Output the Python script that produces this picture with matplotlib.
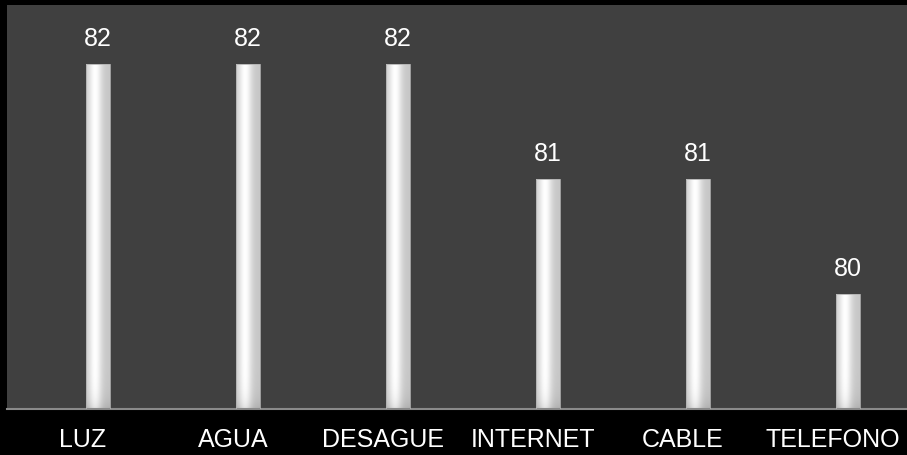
import numpy as np
import matplotlib
matplotlib.use("Agg")
import matplotlib.pyplot as plt

categories = ["LUZ", "AGUA", "DESAGUE", "INTERNET", "CABLE", "TELEFONO"]
values = [82, 82, 82, 81, 81, 80]
label_texts = ["82", "82", "82", "81", "81", "80"]

plt.rcParams['font.family'] = ['Liberation Sans', 'DejaVu Sans']

W, H = 907, 456
fig = plt.figure(figsize=(W / 100, H / 100), dpi=100, facecolor="black")
ax = fig.add_axes([7 / W, (H - 410) / H, 900 / W, (410 - 6) / H])
ax.set_facecolor("#404040")
ymin, ymax = 79, 82.51
shift = 1 / 150
ax.set_xlim(-0.5 - shift, len(categories) - 0.5 - shift)
ax.set_ylim(ymin, ymax)

bw = 0.16
off = 0.1
xs = np.linspace(0, 1, 60)
prof = 0.78 + 0.22 * np.exp(-((xs - 0.38) / 0.28) ** 2)
prof = np.clip(prof, 0, 1)
for i, v in enumerate(values):
    xc = i + off
    x0, x1 = xc - bw / 2, xc + bw / 2
    n = 200
    ys = np.linspace(0, 1, n)
    vert = 1 - 0.12 * np.exp(-ys * (v - ymin) * 115 / 10.0)
    img = prof[None, :] * vert[:, None]
    rgb = np.dstack([img, img, img])
    im = ax.imshow(rgb, extent=(x0, x1, ymin, v), origin="lower",
                   aspect="auto", interpolation="bilinear", zorder=2)
    rect = plt.Rectangle((x0, ymin), bw, v - ymin, transform=ax.transData,
                         facecolor="none", edgecolor="#b0b0b0", linewidth=0.6, zorder=3)
    ax.add_patch(rect)
    im.set_clip_path(rect)
    ax.text(xc, v + 0.12, label_texts[i], ha="center", va="bottom",
            color="white", fontsize=18)

ax.set_xticks(range(len(categories)))
ax.set_xticklabels(categories, color="white", fontsize=18)
ax.tick_params(axis="x", length=0, pad=13)
ax.set_yticks([])
for s in ["top", "right", "left"]:
    ax.spines[s].set_visible(False)
ax.spines["bottom"].set_color("#8a8a8a")
ax.spines["bottom"].set_linewidth(1.5)

fig.savefig("out.png", dpi=100, facecolor="black")
